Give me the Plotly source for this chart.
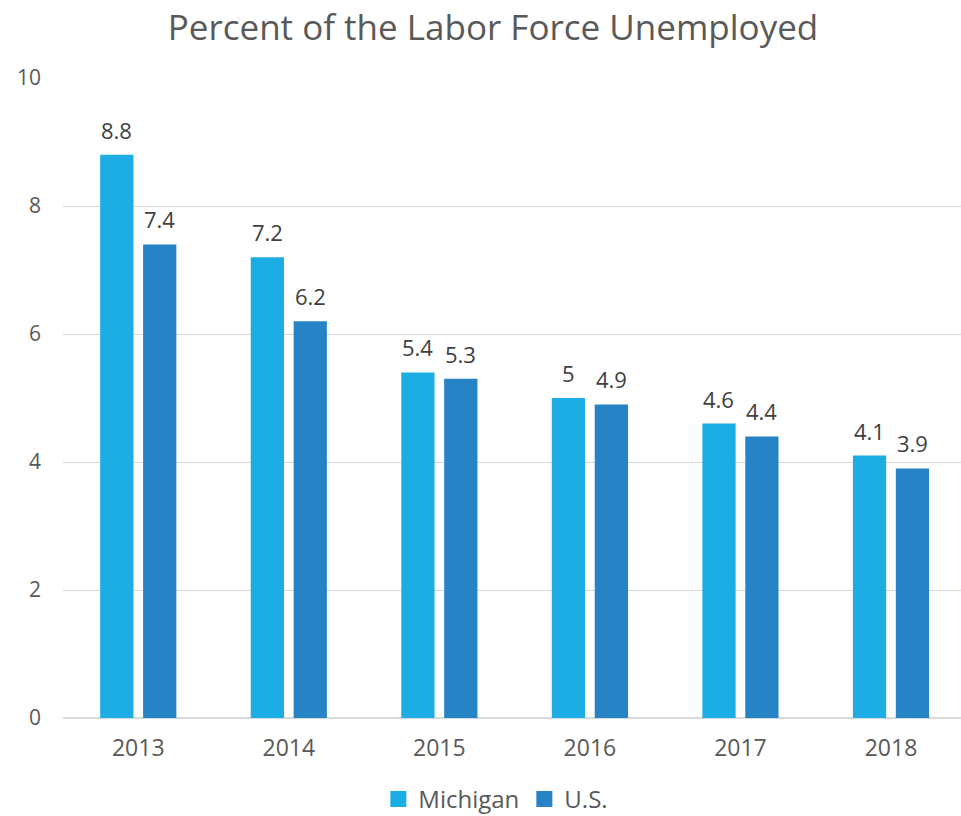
import plotly.graph_objects as go

years = ["2013", "2014", "2015", "2016", "2017", "2018"]
michigan = [8.8, 7.2, 5.4, 5.0, 4.6, 4.1]
us = [7.4, 6.2, 5.3, 4.9, 4.4, 3.9]
series_names = ["Michigan", "U.S."]
colors = ["#1CADE4", "#2683C6"]
y_ticks = [0, 2, 4, 6, 8, 10]

FONT = "Open Sans"
W, H = 961, 816
L, R, T, B = 63, 0, 78, 98

fig = go.Figure()
for name, vals, col in zip(series_names, [michigan, us], colors):
    fig.add_trace(go.Bar(
        name=name, x=years, y=vals, showlegend=False,
        marker=dict(color=col, line=dict(width=0)),
    ))
# legend entries with larger square swatches
for name, col in zip(series_names, colors):
    fig.add_trace(go.Scatter(
        name=name, x=[None], y=[None], mode="markers",
        marker=dict(symbol="square", size=16, color=col),
    ))

# value labels above each bar (x given as category index)
offsets = [-21.5, 21.5]
for vals, dx in zip([michigan, us], offsets):
    for i, v in enumerate(vals):
        fig.add_annotation(
            x=i, y=v, xref="x", yref="y", text=f"{v:g}", showarrow=False,
            xshift=dx, yshift=8, yanchor="bottom",
            font=dict(family=FONT, size=22, color="#404040"),
        )

fig.update_layout(
    width=W, height=H,
    margin=dict(l=L, r=R, t=T, b=B, autoexpand=False),
    paper_bgcolor="white", plot_bgcolor="white",
    barmode="group", bargap=0.43, bargroupgap=0.225,
    title=dict(text="Percent of the Labor Force Unemployed", x=0.513, xanchor="center",
               y=1 - 28 / H, yanchor="middle",
               font=dict(family=FONT, size=35, color="#595959")),
    font=dict(family=FONT, color="#595959"),
    legend=dict(orientation="h", x=0.482, xanchor="center", y=-0.127, yanchor="middle",
                font=dict(family=FONT, size=24, color="#595959"),
                itemwidth=30, tracegroupgap=0),
    xaxis=dict(type="category", range=[-0.5, 5.465], showgrid=False, showline=False,
               zeroline=False, ticks="", ticklabelstandoff=14,
               tickfont=dict(family=FONT, size=23, color="#595959")),
    yaxis=dict(range=[0, 10], tickvals=y_ticks, showgrid=True, gridcolor="#D9D9D9",
               gridwidth=1.3, zeroline=True, zerolinecolor="#D9D9D9", zerolinewidth=1.5,
               showline=False, ticks="", ticklabelstandoff=21,
               tickfont=dict(family=FONT, size=21, color="#595959")),
)

fig.write_html("out.html")
